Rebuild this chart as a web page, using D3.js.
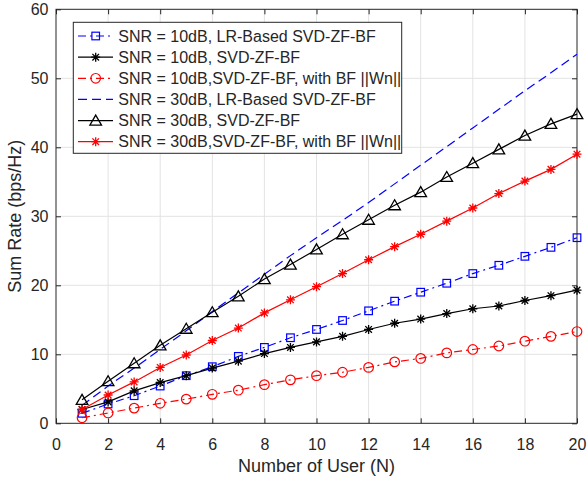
<!DOCTYPE html>
<html>
<head>
<meta charset="utf-8">
<script src="https://cdn.jsdelivr.net/npm/d3@7"></script>
<style>
  html, body { margin: 0; padding: 0; background: #fff; }
  svg { display: block; }
  text { font-family: "Liberation Sans", Arial, Helvetica, sans-serif; fill: #262626; }
</style>
</head>
<body>
<svg id="chart" width="587" height="479"></svg>
<script>
// ---- data ----
const users = [1,2,3,4,5,6,7,8,9,10,11,12,13,14,15,16,17,18,19,20];
const snr10LR  = [1.45,2.8,4.0,5.4,6.9,8.2,9.7,11.0,12.4,13.6,14.9,16.3,17.7,19.0,20.3,21.7,22.9,24.2,25.5,26.9];
const snr10SVD = [2.0,3.1,4.7,5.9,6.9,8.0,9.0,10.1,11.0,11.8,12.6,13.6,14.5,15.1,15.9,16.6,17.0,17.8,18.5,19.3];
const snr10BF  = [0.8,1.5,2.2,2.9,3.5,4.2,4.8,5.6,6.3,6.9,7.4,8.1,8.9,9.4,10.2,10.7,11.2,11.9,12.6,13.3];
const snr30LR  = [2.6,5.4,8.0,10.7,13.4,16.2,18.9,21.6,24.3,26.9,29.4,32.0,34.7,37.4,40.1,42.8,45.5,48.2,50.8,53.5];
const snr30SVD = [3.4,6.1,8.7,11.3,13.7,16.1,18.4,20.9,23.0,25.2,27.4,29.5,31.6,33.5,35.7,37.7,39.7,41.7,43.4,44.8];
const snr30BF  = [2.0,4.1,6.0,8.1,9.9,12.0,13.8,16.0,17.9,19.8,21.7,23.7,25.6,27.4,29.3,31.2,33.3,35.1,36.8,39.0];
const seriesNames = [
  "SNR = 10dB, LR-Based SVD-ZF-BF",
  "SNR = 10dB, SVD-ZF-BF",
  "SNR = 10dB,SVD-ZF-BF, with BF ||Wn||",
  "SNR = 30dB, LR-Based SVD-ZF-BF",
  "SNR = 30dB, SVD-ZF-BF",
  "SNR = 30dB,SVD-ZF-BF, with BF ||Wn||"
];
const xTicks = [0,2,4,6,8,10,12,14,16,18,20];
const yTicks = [0,10,20,30,40,50,60];
const xLabel = "Number of User (N)";
const yLabel = "Sum Rate (bps/Hz)";

// ---- styles ----
const styles = [
  {values: snr10LR,  color: "#0000ff", dash: "8,4,2,4", marker: "square"},
  {values: snr10SVD, color: "#000000", dash: null,      marker: "star"},
  {values: snr10BF,  color: "#ff0000", dash: "8,4,2,4", marker: "circle"},
  {values: snr30LR,  color: "#0000ff", dash: "9,5",     marker: "none"},
  {values: snr30SVD, color: "#000000", dash: null,      marker: "triangle"},
  {values: snr30BF,  color: "#ff0000", dash: null,      marker: "star"}
];

const svg = d3.select("#chart");
const L = 56, R = 577, T = 9.3, B = 423.3;
const x = d3.scaleLinear().domain([0,20]).range([L,R]);
const y = d3.scaleLinear().domain([0,60]).range([B,T]);
const axisColor = "#262626";

// grid
const grid = svg.append("g");
grid.selectAll("line.gx").data(xTicks.slice(1,-1)).join("line")
  .attr("x1", d=>x(d)).attr("x2", d=>x(d)).attr("y1", T).attr("y2", B)
  .attr("stroke", "#e3e3e3").attr("stroke-width", 1);
grid.selectAll("line.gy").data(yTicks.slice(1,-1)).join("line")
  .attr("y1", d=>y(d)).attr("y2", d=>y(d)).attr("x1", L).attr("x2", R)
  .attr("stroke", "#e3e3e3").attr("stroke-width", 1);

// axes
function styleAxis(g) {
  g.select(".domain").remove();
  g.selectAll(".tick line").attr("stroke", axisColor).attr("stroke-width", 1);
  g.selectAll(".tick text").attr("font-size", 16).attr("fill", axisColor)
    .style("font-family", '"Liberation Sans", Arial, Helvetica, sans-serif');
}
svg.append("g").attr("transform", `translate(0,${B})`)
  .call(d3.axisBottom(x).tickValues(xTicks).tickSize(-5).tickPadding(15).tickFormat(d3.format("d")))
  .call(styleAxis);
svg.append("g").attr("transform", `translate(0,${T})`)
  .call(d3.axisTop(x).tickValues(xTicks).tickSize(-5).tickFormat(""))
  .call(styleAxis);
svg.append("g").attr("transform", `translate(${L},0)`)
  .call(d3.axisLeft(y).tickValues(yTicks).tickSize(-5).tickPadding(7.5).tickFormat(d3.format("d")))
  .call(styleAxis);
svg.append("g").attr("transform", `translate(${R},0)`)
  .call(d3.axisRight(y).tickValues(yTicks).tickSize(-5).tickFormat(""))
  .call(styleAxis);

// box
svg.append("rect").attr("x", L).attr("y", T).attr("width", R-L).attr("height", B-T)
  .attr("fill", "none").attr("stroke", axisColor).attr("stroke-width", 1);

// labels
svg.append("text").attr("x", (L+R)/2).attr("y", 471.5).attr("text-anchor", "middle")
  .attr("font-size", 18).text(xLabel);
svg.append("text").attr("transform", `translate(20.7,${(T+B)/2}) rotate(-90)`)
  .attr("text-anchor", "middle").attr("font-size", 18).text(yLabel);

// markers
function drawMarker(g, type, cx, cy, color) {
  if (type === "square") {
    g.append("rect").attr("x", cx-3.8).attr("y", cy-3.8).attr("width", 7.6).attr("height", 7.6)
      .attr("fill", "none").attr("stroke", color).attr("stroke-width", 1.2);
  } else if (type === "circle") {
    g.append("circle").attr("cx", cx).attr("cy", cy).attr("r", 4.8)
      .attr("fill", "none").attr("stroke", color).attr("stroke-width", 1.2);
  } else if (type === "triangle") {
    g.append("path").attr("d", `M${cx},${cy-5.5}L${cx+5.8},${cy+4.5}L${cx-5.8},${cy+4.5}Z`)
      .attr("fill", "none").attr("stroke", color).attr("stroke-width", 1.3);
  } else if (type === "star") {
    const r = 4.5, d = 3.3;
    const p = `M${cx-r},${cy}L${cx+r},${cy}M${cx},${cy-r}L${cx},${cy+r}` +
              `M${cx-d},${cy-d}L${cx+d},${cy+d}M${cx-d},${cy+d}L${cx+d},${cy-d}`;
    g.append("path").attr("d", p).attr("stroke", color).attr("stroke-width", 1.3).attr("fill", "none");
  }
}

// series
const line = d3.line().x(d=>x(d[0])).y(d=>y(d[1]));
const plot = svg.append("g");
styles.forEach(s => {
  const pts = users.map((u,i)=>[u, s.values[i]]);
  const g = plot.append("g");
  g.append("path").datum(pts).attr("d", line).attr("fill", "none")
    .attr("stroke", s.color).attr("stroke-width", 1.2)
    .attr("stroke-dasharray", s.dash);
  if (s.marker !== "none") pts.forEach(p => drawMarker(g, s.marker, x(p[0]), y(p[1]), s.color));
});

// legend
const lg = svg.append("g");
lg.append("rect").attr("x", 73.3).attr("y", 22.3).attr("width", 401.7-73.3).attr("height", 153.3-22.3)
  .attr("fill", "#fff").attr("stroke", axisColor).attr("stroke-width", 1);
const rowY = d3.scaleLinear().domain([0,5]).range([36, 141.7]);
styles.forEach((s,i) => {
  const yy = rowY(i);
  lg.append("line").attr("x1", 78).attr("x2", 113).attr("y1", yy).attr("y2", yy)
    .attr("stroke", s.color).attr("stroke-width", 1.2).attr("stroke-dasharray", s.dash);
  if (s.marker !== "none") drawMarker(lg, s.marker, 95.7, yy, s.color);
  lg.append("text").attr("x", 118.3).attr("y", yy+5.7).attr("font-size", 16).text(seriesNames[i]);
});
</script>
</body>
</html>
